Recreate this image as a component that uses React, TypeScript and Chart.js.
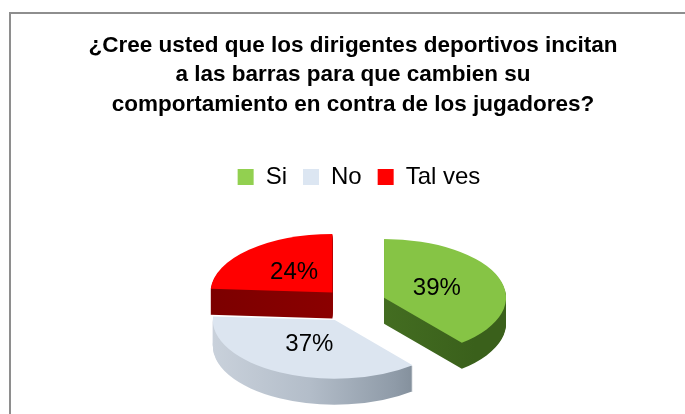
import React, { useEffect, useRef } from "react";
import { Chart, registerables } from "chart.js";

Chart.register(...registerables);

const TITLE_LINES = [
  "¿Cree usted que los dirigentes deportivos incitan",
  "a las barras para que cambien su",
  "comportamiento en contra de los jugadores?",
];
const CATEGORIES = ["Si", "No", "Tal ves"];
const VALUES = [39, 37, 24];
const LABELS = ["39%", "37%", "24%"];
const LEGEND_COLORS = ["#92d050", "#dce6f2", "#ff0000"];
const TOP_COLORS = ["#86c445", "#dce5f0", "#ff0000"];
const EXPLODE = [33, 40, 30];

const TILT = 0.48;
const DEPTH = 26;
const LABEL_R = 0.46;
const LEGEND_SHIFT = 6;
const FONT = "'Liberation Sans', Arial, sans-serif";

function sideFill(ctx: CanvasRenderingContext2D, i: number, x0: number, x1: number) {
  const g = ctx.createLinearGradient(x0, 0, x1, 0);
  if (i === 0) {
    g.addColorStop(0, "#4f7e29");
    g.addColorStop(1, "#3a601b");
  } else if (i === 1) {
    g.addColorStop(0, "#c9d1db");
    g.addColorStop(0.45, "#b3bdc9");
    g.addColorStop(0.85, "#8f9ba8");
    g.addColorStop(1, "#7c8894");
  } else {
    g.addColorStop(0, "#7c0000");
    g.addColorStop(1, "#960000");
  }
  return g;
}

const pie3d = {
  id: "pie3d",
  afterLayout(chart: any) {
    const lg = chart.legend;
    if (lg) {
      lg.left += LEGEND_SHIFT;
      lg.right += LEGEND_SHIFT;
    }
  },
  beforeDraw(chart: any) {
    const ctx = chart.ctx as CanvasRenderingContext2D;
    ctx.save();
    ctx.fillStyle = "#ffffff";
    ctx.fillRect(0, 0, chart.width, chart.height);
    ctx.strokeStyle = "#8e8e8e";
    ctx.lineWidth = 2;
    ctx.strokeRect(10, 13, chart.width + 40, chart.height + 40);
    ctx.restore();
  },
  beforeDatasetsDraw(chart: any) {
    const ctx = chart.ctx as CanvasRenderingContext2D;
    const meta = chart.getDatasetMeta(0);
    const arcs = meta.data as any[];
    if (!arcs.length) return false;
    const cx = arcs[0].x;
    const cy = arcs[0].y;
    const items = arcs
      .map((arc, i) => {
        const mid = (arc.startAngle + arc.endAngle) / 2;
        const d = EXPLODE[i];
        return { arc, i, dx: Math.cos(mid) * d, dy: Math.sin(mid) * d };
      })
      .sort((a, b) => a.dy - b.dy);
    for (const it of items) {
      const R = it.arc.outerRadius;
      ctx.save();
      ctx.translate(cx, cy);
      ctx.scale(1, TILT);
      ctx.translate(-cx, -cy);
      ctx.translate(it.dx, it.dy);
      const side = sideFill(ctx, it.i, cx - R, cx + R * 0.75);
      const sideArc = Object.create(it.arc);
      sideArc.options = { ...it.arc.options, backgroundColor: side, borderColor: side, borderWidth: 0, offset: 0 };
      for (let k = DEPTH; k >= 1; k--) {
        ctx.save();
        ctx.translate(0, k / TILT);
        sideArc.draw(ctx);
        ctx.restore();
      }
      const topArc = Object.create(it.arc);
      topArc.options = { ...it.arc.options, backgroundColor: TOP_COLORS[it.i], borderColor: TOP_COLORS[it.i], borderWidth: 0, offset: 0 };
      topArc.draw(ctx);
      ctx.restore();
    }
    return false;
  },
  afterDraw(chart: any) {
    const ctx = chart.ctx as CanvasRenderingContext2D;
    const arcs = chart.getDatasetMeta(0).data as any[];
    if (!arcs.length) return;
    const cx = arcs[0].x;
    const cy = arcs[0].y;
    ctx.save();
    ctx.fillStyle = "#000";
    ctx.font = `24px ${FONT}`;
    ctx.textAlign = "center";
    ctx.textBaseline = "middle";
    arcs.forEach((arc, i) => {
      const mid = (arc.startAngle + arc.endAngle) / 2;
      const r = arc.outerRadius * LABEL_R + EXPLODE[i];
      const px = cx + Math.cos(mid) * r;
      const py = cy + Math.sin(mid) * r * TILT;
      ctx.fillText(LABELS[i], px, py);
    });
    ctx.restore();
  },
};

export default function App() {
  const ref = useRef<HTMLCanvasElement | null>(null);
  useEffect(() => {
    document.body.style.margin = "0";
    document.body.style.overflow = "hidden";
    const canvas = ref.current!;
    const chart = new Chart(canvas, {
      type: "pie",
      data: {
        labels: CATEGORIES,
        datasets: [
          {
            data: VALUES,
            backgroundColor: LEGEND_COLORS,
            borderWidth: 0,
            radius: 122,
          } as any,
        ],
      },
      options: {
        responsive: false,
        animation: false,
        events: [],
        layout: { padding: { left: 24, right: 3, top: 0, bottom: 7 } },
        plugins: {
          title: {
            display: true,
            text: TITLE_LINES,
            color: "#000",
            font: { family: FONT, size: 22.5, weight: "bold", lineHeight: 1.311 },
            padding: { top: 31, bottom: 29.5 },
          },
          legend: {
            display: true,
            position: "top",
            labels: {
              boxWidth: 16,
              boxHeight: 16,
              padding: 16,
              color: "#000",
              font: { family: FONT, size: 24 },
            },
          },
          tooltip: { enabled: false },
        },
      } as any,
      plugins: [pie3d],
    });
    return () => chart.destroy();
  }, []);
  return <canvas ref={ref} width={685} height={414} style={{ display: "block" }} />;
}
